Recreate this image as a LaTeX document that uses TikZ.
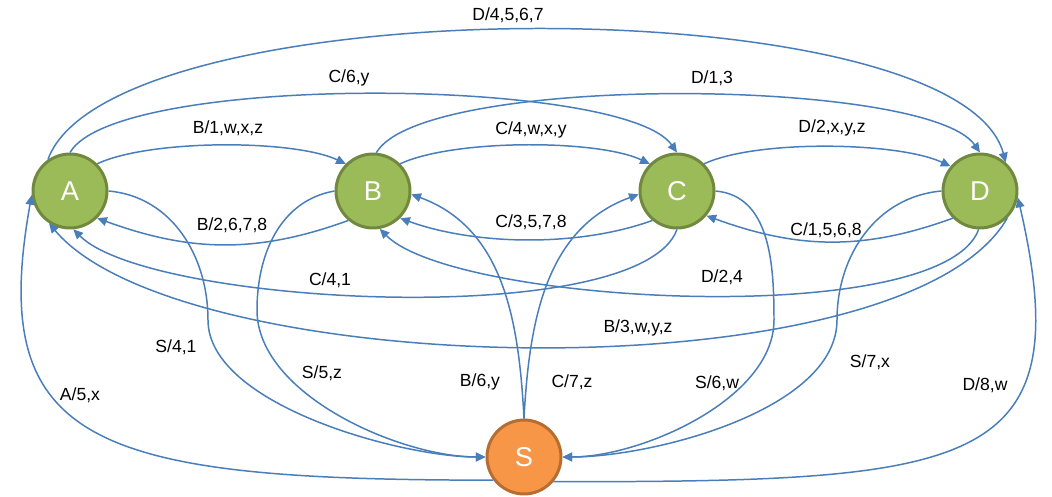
\documentclass[tikz,border=0pt]{standalone}
\usepackage{fontspec}
\setmainfont{Liberation Sans}
\usepackage{tikz}
\usetikzlibrary{arrows.meta}

\definecolor{stategreen}{HTML}{9BBB59}
\definecolor{stategreenline}{HTML}{71893F}
\definecolor{startorange}{HTML}{F79646}
\definecolor{startorangeline}{HTML}{B66D31}
\definecolor{edgeblue}{HTML}{4A7EBB}

\begin{document}
\begin{tikzpicture}[x=0.02cm, y=0.02cm, >={Triangle[length=5.5pt,width=5pt]},
        statenode/.style={circle, fill=stategreen, draw=stategreenline, line width=1.7pt,
            minimum size=1.48cm, inner sep=0pt, text=white, font=\fontsize{15.5}{17}\selectfont},
        startstate/.style={statenode, fill=startorange, draw=startorangeline},
        trans/.style={->, draw=edgeblue, line width=0.85pt},
        lbl/.style={font=\fontsize{10}{12}\selectfont, inner sep=1pt}]
        \useasboundingbox (0,0) rectangle (1052,497);

        % draw the states
        \node[statenode] (A) at (70,306) {A};
        \node[statenode] (B) at (373,306) {B};
        \node[statenode] (C) at (677,306) {C};
        \node[statenode] (D) at (980,306) {D};
        \node[startstate] (S) at (524,40) {S};

        % bends of the paths into S
        \coordinate (abend) at (208,177);
        \coordinate (bbend) at (257,187);
        \coordinate (cbend) at (774,177);
        \coordinate (dbend) at (837,177);

        % neighbours
        \draw[trans] (A.45) to[out=25, in=155, looseness=0.6] (B.135);
        \draw[trans] (B.230) to[out=200, in=-20] (A.-45);
        \draw[trans] (B.45) to[out=25, in=155, looseness=0.6] (C.135);
        \draw[trans] (C.230) to[out=200, in=-20, looseness=0.8] (B.-45);
        \draw[trans] (C.45) to[out=25, in=155, looseness=0.6] (D.140);
        \draw[trans] (D.225) to[out=200, in=-20] (C.-40);

        % long arcs
        \draw[trans] (A.90) to[out=60, in=125, looseness=0.39] (C.90);
        \draw[trans] (B.85) to[out=60, in=125, looseness=0.39] (D.90);
        \draw[trans] (A.125) to[out=70, in=105, looseness=0.49] (D.48);
        \draw[trans] (C.270) to[out=250, in=-45, looseness=0.46] (A.275);
        \draw[trans] (D.268) to[out=250, in=-45, looseness=0.46] (B.280);
        \draw[trans] (D.315) to[out=240, in=-50, looseness=0.55] (A.237);

        % to and from S
        \draw[trans] (A.east) to[out=-5, in=90] (abend) to[out=-90, in=180, looseness=0.7] (S.west);
        \draw[trans] (B.west) to[out=190, in=90] (bbend) to[out=-90, in=180, looseness=0.8] (S.west);
        \draw[trans] (S.north) to[out=93, in=-20] (B.-5);
        \draw[trans] (S.north) to[out=87, in=200] (C.185);
        \draw[trans] (C.east) to[out=-5, in=90] (cbend) to[out=-90, in=0, looseness=0.8] (S.east);
        \draw[trans] (D.west) to[out=185, in=90] (dbend) to[out=-90, in=0, looseness=0.75] (S.east);
        \draw[trans] (S.217) .. controls +(-400,0) and +(-45,-250) .. (A.186);
        \draw[trans] (S.320) .. controls +(420,0) and +(63,-273) .. (D.350);

        % the texts
        \node[lbl] (tAD) at (508,482) {D/4,5,6,7};
        \node[lbl] (tAC) at (349,419) {C/6,y};
        \node[lbl] (tBD) at (712,419) {D/1,3};
        \node[lbl] (tAB) at (228,369) {B/1,w,x,z};
        \node[lbl] (tBC) at (531,367) {C/4,w,x,y};
        \node[lbl] (tCD) at (832,369) {D/2,x,y,z};
        \node[lbl] (tBA) at (232,272) {B/2,6,7,8};
        \node[lbl] (tCB) at (531,275) {C/3,5,7,8};
        \node[lbl] (tDC) at (826,267) {C/1,5,6,8};
        \node[lbl] (tCA) at (330,217) {C/4,1};
        \node[lbl] (tDB) at (722,220) {D/2,4};
        \node[lbl] (tDA) at (638,169) {B/3,w,y,z};
        \node[lbl] (tAS) at (176,150) {S/4,1};
        \node[lbl] (tBS) at (322,124) {S/5,z};
        \node[lbl] (tSB) at (480,115) {B/6,y};
        \node[lbl] (tSC) at (572,115) {C/7,z};
        \node[lbl] (tCS) at (717,114) {S/6,w};
        \node[lbl] (tDS) at (870,135) {S/7,x};
        \node[lbl] (tSA) at (80,102) {A/5,x};
        \node[lbl] (tSD) at (985,112) {D/8,w};
\end{tikzpicture}
\end{document}
